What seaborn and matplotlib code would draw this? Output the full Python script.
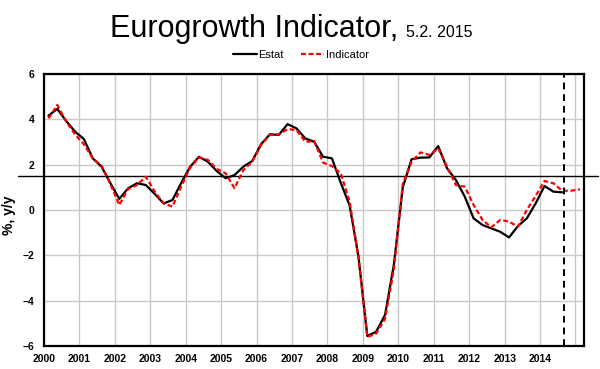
import numpy as np
import pandas as pd
import matplotlib
matplotlib.use("Agg")
import matplotlib.pyplot as plt
import seaborn as sns

# ---- data (quarterly, y/y %) ----
estat_start_year = 2000
estat = [4.16, 4.46, 3.93, 3.46,
         3.13, 2.28, 1.91, 1.18,
         0.49, 0.96, 1.18, 1.10,
         0.71, 0.29, 0.44, 1.20,
         1.91, 2.35, 2.13, 1.72,
         1.40, 1.54, 1.91, 2.16,
         2.90, 3.34, 3.31, 3.79,
         3.60, 3.16, 3.01, 2.35,
         2.28, 1.20, 0.20, -2.05,
         -5.56, -5.37, -4.63, -2.40,
         1.00, 2.24, 2.31, 2.32,
         2.82, 1.84, 1.32, 0.59,
         -0.37, -0.66, -0.81, -0.96,
         -1.21, -0.71, -0.37, 0.29,
         1.06, 0.81, 0.78]
indicator = [4.04, 4.63, 3.90, 3.34,
             2.90, 2.28, 1.96, 1.13,
             0.22, 0.93, 1.10, 1.47,
             0.81, 0.29, 0.15, 1.05,
             1.87, 2.32, 2.21, 1.81,
             1.62, 0.96, 1.76, 2.13,
             2.87, 3.31, 3.34, 3.57,
             3.53, 3.01, 3.04, 2.09,
             1.94, 1.62, 0.37, -2.10,
             -5.60, -5.45, -4.80, -2.60,
             1.15, 2.13, 2.54, 2.43,
             2.72, 1.91, 1.10, 1.03,
             0.22, -0.44, -0.76, -0.44,
             -0.51, -0.74, 0.00, 0.62,
             1.28, 1.18, 0.85, 0.85,
             0.91]
year_ticks = list(range(2000, 2016))
year_labels = [str(y) for y in range(2000, 2015)] + [""]
y_ticks = [-6, -4, -2, 0, 2, 4, 6]
ref_level = 1.5
forecast_cut = 2014.67

t_estat = [estat_start_year + i / 4 + 0.125 for i in range(len(estat))]
t_ind = [estat_start_year + i / 4 + 0.125 for i in range(len(indicator))]
df_e = pd.DataFrame({"t": t_estat, "v": estat})
df_i = pd.DataFrame({"t": t_ind, "v": indicator})

sns.set_theme(style="white")
plt.rcParams["font.family"] = ["Liberation Sans", "DejaVu Sans"]
plt.rcParams["text.color"] = "black"
plt.rcParams["axes.labelcolor"] = "black"
plt.rcParams["xtick.color"] = "black"
plt.rcParams["ytick.color"] = "black"

fig = plt.figure(figsize=(6, 3.69), dpi=100)
ax = fig.add_axes([44 / 600, 1 - 346 / 369, 540 / 600, 272 / 369])

ax.set_xlim(2000, 2015.24)
ax.set_ylim(-6, 6)
ax.set_xticks(year_ticks)
ax.set_xticklabels(year_labels)
ax.set_yticks(y_ticks)
ax.grid(True, color="#c8c8c8", linewidth=1.0)
ax.set_axisbelow(True)

sns.lineplot(data=df_e, x="t", y="v", ax=ax, color="black", linewidth=1.6,
             label="Estat", zorder=3)
sns.lineplot(data=df_i, x="t", y="v", ax=ax, color="red", linewidth=1.6,
             linestyle=(0, (2.2, 1.2)), label="Indicator", zorder=4)

ax.axhline(ref_level, xmin=-0.048, xmax=1.026, color="black", linewidth=1.0,
           clip_on=False, zorder=2)
ax.axvline(forecast_cut, color="black", linewidth=1.4,
           linestyle=(0, (3.5, 2.5)), zorder=5)

for s in ax.spines.values():
    s.set_visible(True)
    s.set_color("black")
    s.set_linewidth(1.6)

ax.tick_params(axis="both", length=0, labelsize=7.5, colors="black")
ax.tick_params(axis="y", pad=7)
ax.tick_params(axis="x", pad=6)
for lab in ax.get_xticklabels() + ax.get_yticklabels():
    lab.set_fontweight("bold")

ax.set_xlabel("")
ax.set_ylabel("%, y/y", fontsize=10, fontweight="bold", color="black")
ax.yaxis.set_label_coords(-0.052, 0.48)

leg = ax.legend(loc="center", bbox_to_anchor=(301 / 600, 1 - 55 / 369),
                bbox_transform=fig.transFigure, ncol=2, frameon=False,
                fontsize=8, handlelength=2.1, handletextpad=0.1,
                columnspacing=1.6)
for txt in leg.get_texts():
    txt.set_color("black")

fig.text(398 / 600, 1 - 37 / 369, "Eurogrowth Indicator,", fontsize=22,
         ha="right", va="baseline", color="black")
fig.text(406 / 600, 1 - 37 / 369, "5.2. 2015", fontsize=11.5,
         ha="left", va="baseline", color="black")

fig.savefig("out.png", dpi=100, facecolor="white")
